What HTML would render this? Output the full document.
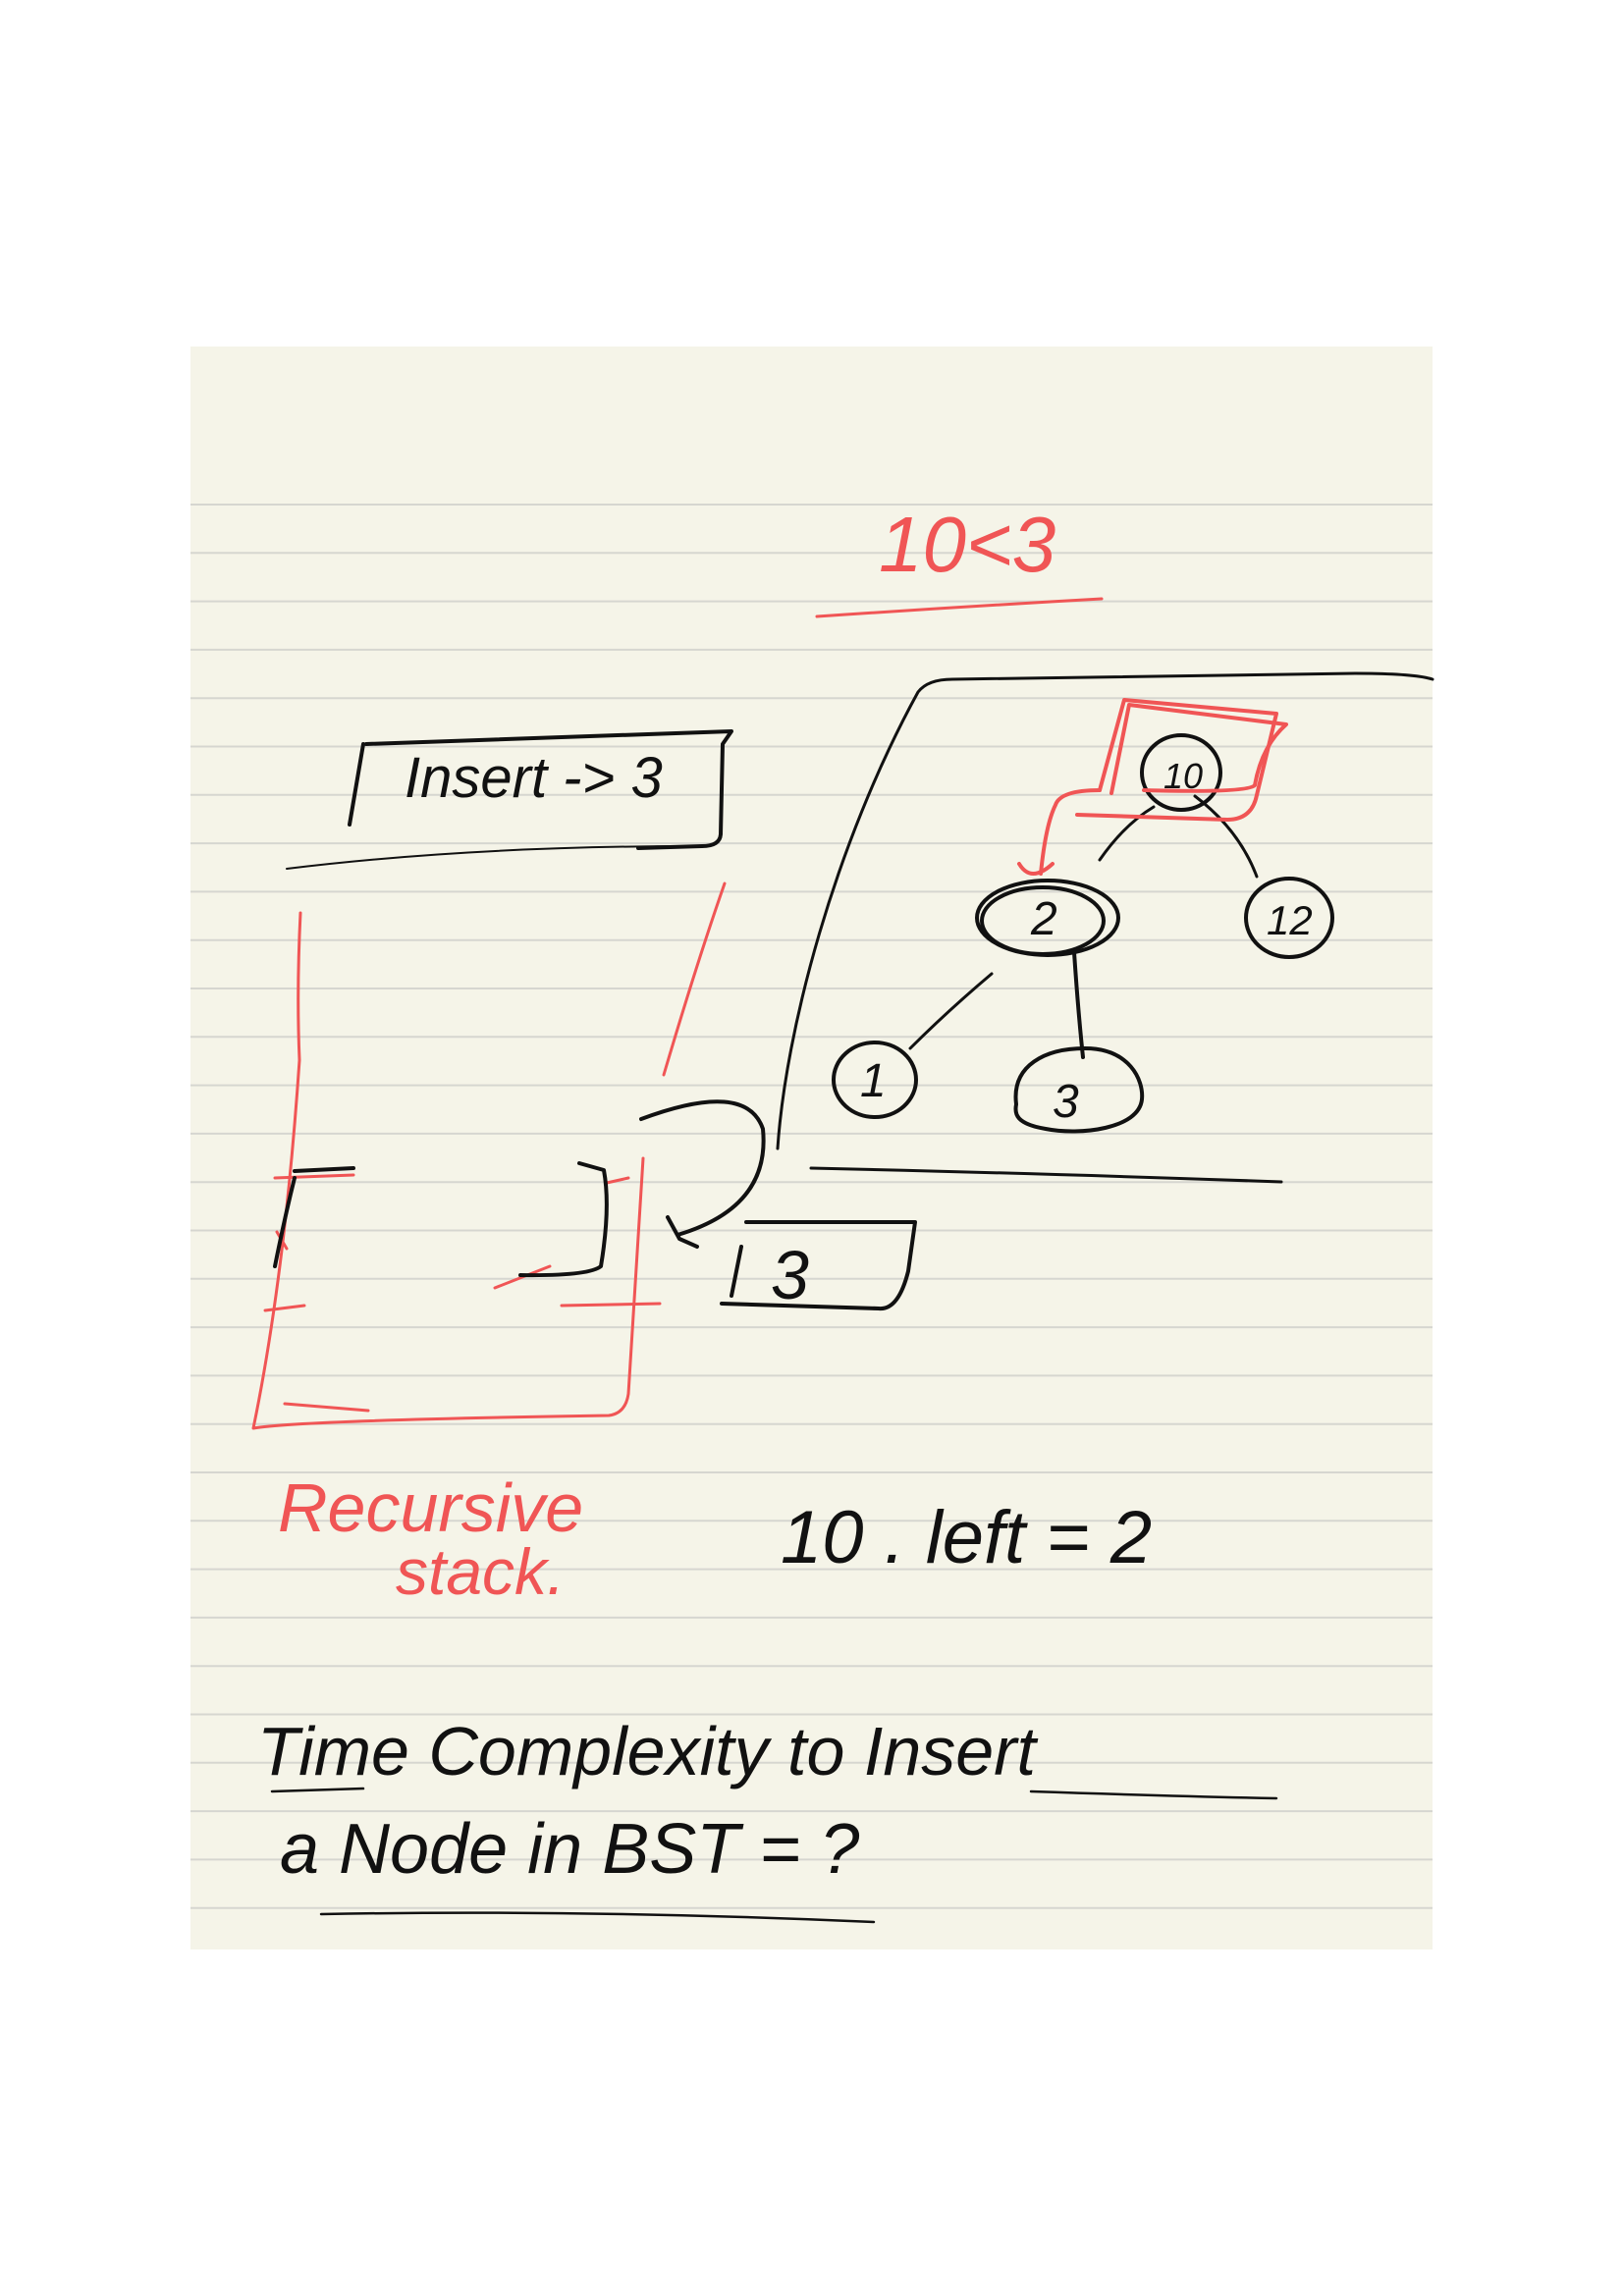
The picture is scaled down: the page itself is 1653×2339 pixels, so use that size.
<!DOCTYPE html>
<html><head><meta charset="utf-8"><style>
html,body{margin:0;padding:0;background:#fff;}
svg{display:block;}
.hw{font-family:"Liberation Sans",sans-serif;font-style:italic;}
</style></head><body>
<svg width="1653" height="2339" viewBox="0 0 1653 2339" xmlns="http://www.w3.org/2000/svg">
<rect x="194" y="353" width="1265" height="1633" fill="#f5f4e8"/>
<g id="lines" stroke="#d6d6d0" stroke-width="2"></g>
<g fill="none" stroke-linecap="round" stroke-linejoin="round">
<text class="hw" x="895" y="582" font-size="80" fill="#f05555">10&lt;3</text>
<path d="M832,628 Q980,618 1122,610" stroke="#f05555" stroke-width="3"/>
<path d="M792,1170 C800,1050 850,860 935,705 Q945,692 970,692 L1380,686 Q1440,686 1459,692" stroke="#111" stroke-width="3"/>
<path d="M826,1190 Q1050,1195 1305,1204" stroke="#111" stroke-width="3"/>
<g stroke="#111" stroke-width="3">
<path d="M1120,876 Q1145,840 1175,822"/>
<path d="M1217,811 Q1262,845 1280,893"/>
<path d="M1094,970 Q1098,1030 1103,1077" stroke-width="4"/>
<path d="M1010,992 Q965,1030 927,1068"/>
</g>
<g stroke="#111" stroke-width="4">
<ellipse cx="1203" cy="787" rx="40" ry="38"/>
<ellipse cx="1067" cy="935" rx="72" ry="38"/>
<ellipse cx="1062" cy="938" rx="62" ry="34"/>
<ellipse cx="1313" cy="935" rx="44" ry="40"/>
<path d="M1035,1125 C1030,1085 1065,1068 1105,1068 C1150,1068 1165,1100 1163,1120 C1160,1150 1100,1157 1065,1150 C1035,1145 1033,1135 1035,1125Z"/>
<ellipse cx="891" cy="1100" rx="42" ry="38"/>
</g>
<g class="hw" fill="#111" stroke="none" font-size="48">
<text x="1185" y="803" font-size="36">10</text>
<text x="1050" y="952">2</text>
<text x="1290" y="952" font-size="42">12</text>
<text x="1072" y="1138">3</text>
<text x="876" y="1117">1</text>
</g>
<g stroke="#f05555" stroke-width="4">
<path d="M1120,805 L1145,713 L1300,727 L1280,810 Q1275,835 1250,835 L1097,830"/>
<path d="M1132,808 L1150,718 L1310,738 Q1285,760 1278,800 Q1270,808 1165,805"/>
<path d="M1120,805 Q1080,805 1075,820 Q1065,840 1060,890 M1038,880 Q1050,900 1072,880"/>
</g>
<g stroke="#111" stroke-width="4">
<path d="M356,840 L370,758"/>
<path d="M373,758 L745,745 L736,758 L734,850 Q733,862 715,862 L650,864"/>
<path d="M292,885 Q480,862 705,862" stroke-width="2"/>
</g>
<text class="hw" x="412" y="812" font-size="58" fill="#111">Insert -&gt; 3</text>
<g stroke="#f05555" stroke-width="3">
<path d="M306,930 Q302,1010 305,1080 Q290,1300 258,1455 Q300,1447 620,1442 Q637,1440 640,1420 L655,1180"/>
<path d="M738,900 Q710,980 676,1095"/>
<path d="M280,1200 L360,1197 M270,1335 L310,1330 M290,1430 L375,1437 M504,1312 L560,1290 M572,1330 L672,1328 M618,1205 L640,1200 M282,1255 L292,1272"/>
</g>
<g stroke="#111" stroke-width="4">
<path d="M300,1193 L360,1190 M300,1200 Q290,1240 280,1290"/>
<path d="M590,1185 L615,1192 Q622,1230 612,1290 Q600,1300 530,1299"/>
<path d="M653,1140 Q760,1100 777,1150 Q785,1230 690,1258 M680,1240 L692,1262 L710,1270"/>
<path d="M760,1245 L932,1245 L925,1295 Q915,1335 895,1333 L735,1328 M755,1270 L745,1320"/>
</g>
<text class="hw" x="785" y="1323" font-size="70" fill="#111">3</text>
<text class="hw" x="283" y="1560" font-size="70" fill="#f05555">Recursive</text>
<text class="hw" x="403" y="1624" font-size="66" fill="#f05555">stack.</text>
<text class="hw" x="795" y="1592" font-size="76" fill="#111">10 . left = 2</text>
<text class="hw" x="262" y="1808" font-size="70" fill="#111">Time Complexity to Insert</text>
<text class="hw" x="285" y="1908" font-size="72" fill="#111">a Node in BST = ?</text>
<g stroke="#111" stroke-width="2.5">
<path d="M277,1825 L370,1822"/>
<path d="M1050,1825 Q1200,1830 1300,1832"/>
<path d="M327,1950 Q600,1945 890,1958"/>
</g>
</g>
</svg>
<script>
const g=document.getElementById('lines');
for(let k=0;k<30;k++){
 const y=514+k*49.3;
 const l=document.createElementNS('http://www.w3.org/2000/svg','line');
 
 
 l.setAttribute('x1',194);l.setAttribute('x2',1459);
 l.setAttribute('y1',y);l.setAttribute('y2',y);
 g.appendChild(l);
}
</script>
</body></html>
